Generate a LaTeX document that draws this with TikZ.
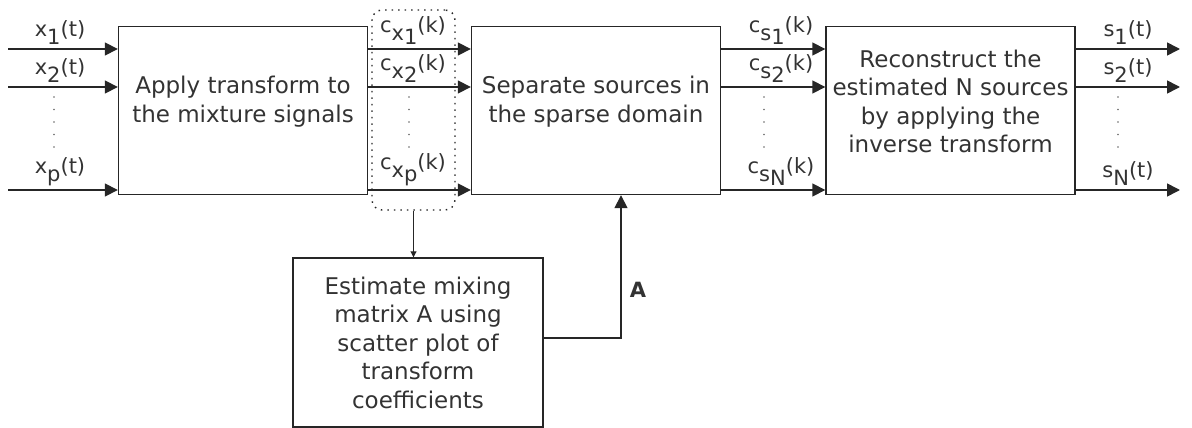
\documentclass[tikz,border=0pt]{standalone}
\usepackage{fontspec}
\setmainfont{DejaVu Sans}
\usetikzlibrary{arrows.meta}
\definecolor{linegray}{gray}{0.15}
\definecolor{textgray}{gray}{0.2}
\newcommand{\low}[2][8pt]{\raisebox{-#1}{#2}}

\begin{document}
\begin{tikzpicture}[x = 1pt, y = -1pt,
  block/.style = {draw = linegray, line width = 1.4pt, minimum width = 249pt, minimum height = 168pt, inner sep = 0pt},
  blocktext/.style = {align = center, font = \fontsize{23}{28.5}\selectfont, text = textgray},
  sig/.style = {font = \fontsize{21}{21}\selectfont, text = textgray, anchor = south, inner sep = 1pt},
  flow/.style = {draw = linegray, line width = 1.6pt, -{Triangle[length = 13pt, width = 13pt]}},
  tap/.style = {draw = linegray, line width = 0.9pt, -{Triangle[length = 6pt, width = 6pt]}}]
\useasboundingbox (0,0) rectangle (1192,428);
\node[block] (apply) at (243,110.5) {};
\node[block] (separate) at (596,110.5) {};
\node[block] (rebuild) at (950.5,110.5) {};
\node[block, minimum width = 250pt, minimum height = 169pt] (estimate) at (418,342.5) {};
\node[blocktext, yshift = 9pt] (applytext) at (apply) {Apply transform to\\the mixture signals};
\node[blocktext, yshift = 9pt] (separatetext) at (separate) {Separate sources in\\the sparse domain};
\node[blocktext, yshift = 9pt] (rebuildtext) at (rebuild) {Reconstruct the\\estimated N sources\\by applying the\\inverse transform};
\node[blocktext] (estimatetext) at (estimate) {Estimate mixing\\matrix A using\\scatter plot of\\transform\\coefficients};
\node[draw = linegray, line width = 1.4pt, dash pattern = on 1.5pt off 5pt, rounded corners = 10pt, minimum width = 83pt, minimum height = 200pt] (coeffs) at (413.5,110) {};
\foreach \y/\i in {49/1, 87/2, 190/p} {
  \coordinate (in\i) at (8,\y);
  \draw[flow] (in\i) -- (apply.west |- in\i);
  \draw[flow] (apply.east |- in\i) -- (separate.west |- in\i);
  \node[sig] (x\i) at (60,\y-3) {x\low{\i}(t)};
  \node[sig] (cx\i) at (413,\y-3) {c\low{x\low[4pt]{\i}}(k)};
}
\foreach \y/\j in {49/1, 87/2, 190/N} {
  \coordinate (out\j) at (1180,\y);
  \draw[flow] (separate.east |- out\j) -- (rebuild.west |- out\j);
  \draw[flow] (rebuild.east |- out\j) -- (out\j);
  \node[sig] (cs\j) at (781,\y-3) {c\low{s\low[4pt]{\j}}(k)};
  \node[sig] (s\j) at (1128,\y-3) {s\low{\j}(t)};
}
\foreach \x in {54, 409, 764, 1118} \foreach \k in {0,...,4} \fill[linegray!70] (\x,97+12.5*\k) circle (0.8pt);
\draw[tap] (coeffs.south) -- (coeffs.south |- estimate.north);
\coordinate (akink) at (621,338);
\draw[flow] (estimate.east |- akink) -- (akink) -- (akink |- separate.south);
\node[font = \bfseries\fontsize{21}{21}\selectfont, text = textgray] (amatrix) at (638,290) {A};
\end{tikzpicture}
\end{document}
